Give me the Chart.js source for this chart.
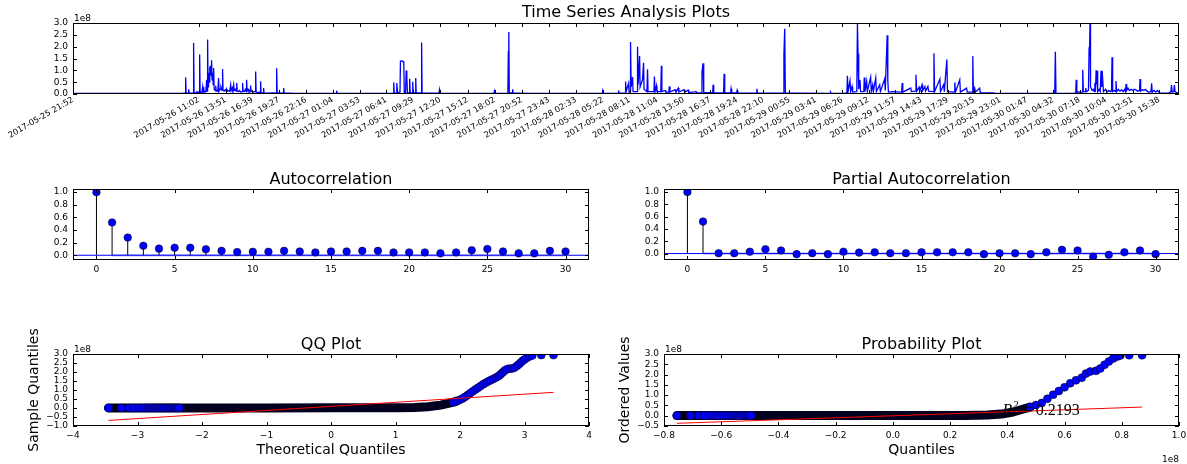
<!DOCTYPE html>
<html>
<head>
<meta charset="utf-8">
<script src="https://cdn.jsdelivr.net/npm/chart.js@4.4.1/dist/chart.umd.min.js"></script>
<style>
  html, body { margin: 0; padding: 0; background: #fff; }
  body { width: 1187px; height: 464px; position: relative; overflow: hidden; }
  canvas { position: absolute; }
</style>
</head>
<body>
<canvas id="tsChart"></canvas>
<canvas id="acfChart"></canvas>
<canvas id="pacfChart"></canvas>
<canvas id="qqChart"></canvas>
<canvas id="probChart"></canvas>
<script>
// ---- data ----------------------------------------------------------------
const tsTickLabels = [
  '2017-05-25 21:52', '2017-05-26 11:02', '2017-05-26 13:51', '2017-05-26 16:39',
  '2017-05-26 19:27', '2017-05-26 22:16', '2017-05-27 01:04', '2017-05-27 03:53',
  '2017-05-27 06:41', '2017-05-27 09:29', '2017-05-27 12:20', '2017-05-27 15:12',
  '2017-05-27 18:02', '2017-05-27 20:52', '2017-05-27 23:43', '2017-05-28 02:33',
  '2017-05-28 05:22', '2017-05-28 08:11', '2017-05-28 11:04', '2017-05-28 13:50',
  '2017-05-28 16:37', '2017-05-28 19:24', '2017-05-28 22:10', '2017-05-29 00:55',
  '2017-05-29 03:41', '2017-05-29 06:26', '2017-05-29 09:12', '2017-05-29 11:57',
  '2017-05-29 14:43', '2017-05-29 17:29', '2017-05-29 20:15', '2017-05-29 23:01',
  '2017-05-30 01:47', '2017-05-30 04:32', '2017-05-30 07:18', '2017-05-30 10:04',
  '2017-05-30 12:51', '2017-05-30 15:38'
];

// [minutes after 2017-05-25 21:52, value in 1e8]
const tsPoints = [
  [0,0.03],[690,0.03],[705,0.05],[708,0.71],[711,0.05],[724,0.04],[727,0.2],[730,0.04],
  [755,0.05],[758,2.16],[761,0.06],[776,0.05],[780,0.1],[793,0.06],[796,1.67],[799,0.06],
  [810,0.08],[815,0.3],[818,0.05],[821,0.3],[824,0.08],[835,0.1],[840,0.6],[843,0.12],
  [846,2.3],[849,0.3],[852,0.9],[855,0.5],[858,1.15],[861,0.7],[865,1.2],[868,0.8],
  [871,1.43],[874,0.6],[878,0.9],[881,0.4],[884,1.1],[887,0.2],[893,0.15],[897,0.35],
  [900,0.12],[906,0.15],[910,0.12],[915,0.67],[918,0.12],[925,0.2],[930,0.3],[937,0.15],
  [940,1.06],[943,0.15],[950,0.12],[956,0.18],[962,0.12],[966,0.2],[972,0.12],[980,0.15],
  [985,0.12],[991,0.38],[994,0.15],[1000,0.25],[1004,0.12],[1010,0.38],[1013,0.15],[1020,0.2],
  [1025,0.12],[1029,0.47],[1032,0.12],[1040,0.1],[1046,0.15],[1055,0.08],[1063,0.1],[1066,0.46],
  [1069,0.1],[1078,0.12],[1083,0.2],[1088,0.1],[1091,0.6],[1094,0.12],[1100,0.2],[1106,0.1],
  [1113,0.15],[1116,0.36],[1119,0.1],[1125,0.12],[1131,0.08],[1140,0.1],[1145,0.1],[1148,0.95],
  [1151,0.08],[1160,0.06],[1170,0.08],[1176,0.06],[1179,0.54],[1182,0.06],[1195,0.05],[1198,0.25],
  [1201,0.05],[1220,0.04],[1260,0.05],[1277,0.04],[1280,1.09],[1283,0.04],[1300,0.05],[1321,0.04],
  [1324,0.25],[1327,0.04],[1360,0.04],[1400,0.03],[1654,0.03],[1657,0.14],[1660,0.03],
  [1990,0.03],[2013,0.04],[2016,0.49],[2019,0.04],[2030,0.04],[2035,0.46],[2040,0.05],[2055,0.08],
  [2058,1.39],[2066,1.4],[2074,1.38],[2079,1.3],[2082,0.06],[2090,0.05],[2094,0.99],[2098,0.7],
  [2102,0.06],[2113,0.05],[2116,0.64],[2119,0.05],[2132,0.05],[2135,0.52],[2138,0.05],[2150,0.05],
  [2154,0.68],[2157,0.05],[2170,0.05],[2188,0.05],[2191,2.18],[2194,0.05],[2220,0.04],[2260,0.04],
  [2300,0.04],[2303,0.18],[2306,0.04],[2340,0.03],[2645,0.03],[2650,0.14],[2655,0.03],[2733,0.04],
  [2736,1.8],[2739,2.62],[2742,0.06],[2760,0.05],[2763,0.2],[2766,0.04],[2800,0.04],[2850,0.03],
  [3300,0.03],[3326,0.03],[3329,0.1],[3332,0.03],[3426,0.04],[3429,0.15],[3432,0.04],[3470,0.05],
  [3473,0.53],[3476,0.1],[3492,0.46],[3495,0.08],[3501,0.1],[3504,2.2],[3508,0.3],[3517,0.71],
  [3520,0.1],[3545,0.1],[3548,2.0],[3552,0.4],[3561,1.6],[3564,0.3],[3579,0.6],[3586,1.32],
  [3589,0.2],[3607,0.1],[3611,1.05],[3614,0.1],[3630,0.1],[3651,0.1],[3654,0.74],[3658,0.1],
  [3667,0.35],[3670,0.1],[3694,0.1],[3698,1.19],[3701,0.1],[3722,0.15],[3726,0.08],[3745,0.08],
  [3748,0.32],[3752,0.08],[3785,0.18],[3789,0.08],[3804,0.25],[3808,0.08],[3841,0.18],[3845,0.07],
  [3866,0.17],[3870,0.06],[3916,0.1],[3920,0.05],[3950,0.05],[3953,0.93],[3960,1.3],[3964,0.06],
  [4020,0.06],[4023,0.39],[4027,0.06],[4070,0.05],[4089,0.05],[4092,0.85],[4096,0.06],[4133,0.05],
  [4136,0.22],[4140,0.05],[4171,0.05],[4174,0.15],[4178,0.05],[4220,0.04],[4295,0.04],[4298,0.22],
  [4302,0.04],[4350,0.04],[4465,0.04],[4468,1.67],[4473,2.76],[4477,0.04],[4520,0.04],[4758,0.03],
  [4761,0.08],[4765,0.03],[4850,0.04],[4864,0.05],[4867,0.77],[4871,0.1],[4883,0.56],[4887,0.1],
  [4896,0.32],[4900,0.08],[4926,0.1],[4930,2.97],[4934,1.7],[4938,0.2],[4946,0.6],[4950,0.1],
  [4970,0.1],[4973,0.7],[4977,0.1],[4988,0.53],[4992,0.1],[5013,0.71],[5017,0.1],[5026,0.39],
  [5030,0.1],[5045,0.68],[5049,0.1],[5070,0.39],[5074,0.1],[5101,0.64],[5105,0.15],[5117,2.48],
  [5121,0.56],[5125,0.08],[5150,0.1],[5208,0.08],[5211,0.46],[5215,0.08],[5265,0.25],[5269,0.1],
  [5294,0.12],[5298,0.81],[5302,0.12],[5317,0.29],[5321,0.1],[5336,0.39],[5340,0.15],[5354,0.32],
  [5358,0.12],[5373,0.32],[5377,0.12],[5407,0.1],[5411,1.72],[5415,0.1],[5448,0.63],[5452,0.1],
  [5472,0.39],[5476,0.1],[5492,1.46],[5496,0.1],[5539,0.08],[5542,0.49],[5546,0.08],[5573,0.6],
  [5577,0.08],[5616,0.25],[5620,0.08],[5651,0.08],[5655,1.6],[5659,0.08],[5667,0.25],[5671,0.08],
  [5698,0.25],[5702,0.06],[5786,0.05],[5790,0.03],[6100,0.03],[6170,0.03],[6174,1.79],[6178,0.03],
  [6290,0.04],[6302,0.05],[6305,0.6],[6309,0.06],[6320,0.1],[6330,0.06],[6343,0.08],[6346,1.02],
  [6350,0.1],[6362,0.1],[6365,0.25],[6369,0.1],[6382,0.15],[6386,1.95],[6389,2.0],[6392,2.97],
  [6395,0.3],[6405,0.15],[6412,0.2],[6418,0.1],[6422,0.46],[6426,0.1],[6430,1.0],[6433,0.4],
  [6436,0.98],[6440,0.1],[6450,0.2],[6456,0.1],[6461,0.98],[6465,0.3],[6468,0.98],[6472,0.98],
  [6476,0.1],[6490,0.2],[6498,0.08],[6510,0.15],[6520,0.1],[6527,0.12],[6530,1.55],[6534,0.1],
  [6545,0.15],[6552,0.1],[6555,0.55],[6559,0.1],[6570,0.2],[6580,0.12],[6590,0.18],[6600,0.1],
  [6610,0.2],[6615,0.1],[6618,0.42],[6622,0.15],[6630,0.25],[6640,0.15],[6650,0.2],[6660,0.15],
  [6670,0.2],[6680,0.18],[6690,0.12],[6703,0.15],[6706,0.63],[6710,0.12],[6720,0.18],[6730,0.15],
  [6740,0.2],[6750,0.12],[6760,0.08],[6775,0.1],[6779,0.45],[6783,0.08],[6795,0.15],[6805,0.08],
  [6815,0.15],[6830,0.05],[6870,0.04],[6890,0.05],[6900,0.1],[6904,0.38],[6908,0.08],[6918,0.1],
  [6922,0.38],[6926,0.1],[6940,0.05],[6951,0.05]
];

const lags = [0,1,2,3,4,5,6,7,8,9,10,11,12,13,14,15,16,17,18,19,20,21,22,23,24,25,26,27,28,29,30];
const acfValues = [1.0,0.52,0.28,0.15,0.105,0.12,0.12,0.095,0.07,0.05,0.055,0.055,0.07,0.06,0.045,0.06,
  0.06,0.07,0.07,0.045,0.045,0.045,0.03,0.045,0.08,0.1,0.06,0.03,0.03,0.07,0.06];
const pacfValues = [1.0,0.52,0.005,0.005,0.03,0.07,0.05,-0.01,0.005,-0.01,0.03,0.015,0.02,0.005,0.005,0.02,
  0.02,0.02,0.02,-0.01,0.005,0.005,-0.01,0.02,0.06,0.05,-0.05,-0.02,0.02,0.05,-0.01];
const confHalfWidth = 0.02;

// QQ plot: [theoretical quantile, sample quantile in 1e8]
const qqDense = [[-3.45,0.005],[-2.0,0.005],[-1.0,0.006],[0.0,0.008],[1.0,0.012],[1.3,0.03],
  [1.5,0.07],[1.7,0.16],[1.85,0.28],[1.95,0.38]];
const qqDots = [[-3.45,0.005],[-3.25,0.005],[-3.13,0.005],[-3.05,0.005],[-2.98,0.005],[-2.93,0.005],
  [-2.88,0.005],[-2.84,0.005],[-2.8,0.005],[-2.77,0.005],[-2.74,0.005],[-2.71,0.005],[-2.68,0.005],
  [-2.65,0.005],[-2.62,0.005],[-2.6,0.005],[-2.57,0.005],[-2.55,0.005],[-2.52,0.005],[-2.5,0.005],
  [-2.48,0.005],[-2.45,0.005],[-2.43,0.005],[-2.41,0.005],[-2.39,0.005],[-2.37,0.005],[-2.35,0.005],
  [1.9,0.32],[1.95,0.38],[2.0,0.46],[2.04,0.53],[2.08,0.62],[2.12,0.72],[2.16,0.83],[2.2,0.93],
  [2.24,1.03],[2.28,1.12],[2.32,1.22],[2.36,1.32],[2.4,1.4],[2.44,1.48],[2.48,1.55],[2.52,1.62],
  [2.56,1.7],[2.6,1.78],[2.63,1.87],[2.66,1.97],[2.69,2.07],[2.72,2.14],[2.76,2.18],[2.8,2.19],
  [2.84,2.23],[2.88,2.33],[2.91,2.42],[2.94,2.52],[2.97,2.62],[3.0,2.7],[3.04,2.79],[3.08,2.87],
  [3.12,2.92],[3.26,2.94],[3.45,2.94]];
const qqFit = [[-3.45,-0.69],[3.45,0.87]];

// Probability plot: [quantile in 1e8, ordered value in 1e8]
const probDense = [[-0.755,0.005],[-0.4,0.005],[0.0,0.008],[0.25,0.012],[0.33,0.03],[0.38,0.08],
  [0.42,0.18],[0.45,0.3],[0.48,0.42]];
const probDots = [[-0.755,0.005],[-0.707,0.005],[-0.679,0.005],[-0.66,0.005],[-0.643,0.005],
  [-0.631,0.005],[-0.62,0.005],[-0.61,0.005],[-0.601,0.005],[-0.594,0.005],[-0.587,0.005],
  [-0.58,0.005],[-0.573,0.005],[-0.566,0.005],[-0.559,0.005],[-0.554,0.005],[-0.547,0.005],
  [-0.542,0.005],[-0.535,0.005],[-0.53,0.005],[-0.525,0.005],[-0.518,0.005],[-0.514,0.005],
  [-0.509,0.005],[-0.504,0.005],[-0.5,0.005],[-0.495,0.005],
  [0.48,0.42],[0.5,0.52],[0.52,0.62],[0.54,0.82],[0.56,1.02],[0.58,1.2],[0.6,1.38],[0.62,1.58],
  [0.64,1.72],[0.66,1.85],[0.675,2.05],[0.69,2.15],[0.71,2.18],[0.725,2.3],[0.74,2.48],
  [0.755,2.64],[0.77,2.78],[0.785,2.88],[0.795,2.93],[0.826,2.94],[0.871,2.94]];
const probFit = [[-0.755,-0.37],[0.871,0.42]];
const probR2 = '0.2193';

// ---- helpers -------------------------------------------------------------
Chart.defaults.font.family = '"DejaVu Sans", sans-serif';
Chart.defaults.color = '#000';

const minus = s => s.replace('-', '\u2212');
const fix = d => v => minus(Number(v).toFixed(d));
const xy = arr => arr.map(p => ({x: p[0], y: p[1]}));

function labelMinutes(s) {
  const [d, t] = s.split(' ');
  const [Y, M, D] = d.split('-').map(Number);
  const [h, m] = t.split(':').map(Number);
  return Date.UTC(Y, M - 1, D, h, m) / 60000;
}
const tsStart = labelMinutes(tsTickLabels[0]);
const tsTickMinutes = tsTickLabels.map(s => labelMinutes(s) - tsStart);

function placeCanvas(id, b) {
  const c = document.getElementById(id);
  c.width = b.w; c.height = b.h;
  c.style.left = b.x + 'px'; c.style.top = b.y + 'px';
  c.style.width = b.w + 'px'; c.style.height = b.h + 'px';
  return c;
}

function xAxis(min, max, vals, fmt, b, extra) {
  return Object.assign({
    type: 'linear', min, max,
    grid: {display: false, drawTicks: false},
    border: {display: false},
    ticks: {autoSkip: false, maxRotation: 0, minRotation: 0, padding: 4, font: {size: 9}, callback: fmt},
    afterBuildTicks: s => { s.ticks = vals.map(v => ({value: v})); },
    afterFit: s => { s.height = b.xH; s.paddingLeft = 0; s.paddingRight = 0; }
  }, extra || {});
}

function yAxis(min, max, vals, fmt, b) {
  return {
    type: 'linear', min, max,
    grid: {display: false, drawTicks: false},
    border: {display: false},
    ticks: {autoSkip: false, padding: 5, font: {size: 9}, callback: fmt},
    afterBuildTicks: s => { s.ticks = vals.map(v => ({value: v})); },
    afterFit: s => { s.width = b.yW; s.paddingTop = 0; s.paddingBottom = 0; }
  };
}

// frame with inward ticks on all four sides, plus titles and labels
const decor = {
  id: 'decor',
  afterDraw(chart, args, o) {
    const {ctx, chartArea: a, scales: {x, y}} = chart;
    ctx.save();
    ctx.strokeStyle = '#000';
    ctx.lineWidth = 1;
    ctx.beginPath();
    x.ticks.forEach(t => {
      const px = Math.round(x.getPixelForValue(t.value)) + 0.5;
      ctx.moveTo(px, a.bottom); ctx.lineTo(px, a.bottom - 4);
      ctx.moveTo(px, a.top); ctx.lineTo(px, a.top + 4);
    });
    y.ticks.forEach(t => {
      const py = Math.round(y.getPixelForValue(t.value)) + 0.5;
      ctx.moveTo(a.left, py); ctx.lineTo(a.left + 4, py);
      ctx.moveTo(a.right, py); ctx.lineTo(a.right - 4, py);
    });
    ctx.stroke();
    ctx.strokeRect(a.left + 0.5, a.top + 0.5, a.right - a.left - 1, a.bottom - a.top - 1);

    ctx.fillStyle = '#000';
    ctx.textBaseline = 'alphabetic';
    if (o.title) {
      ctx.font = '16px "DejaVu Sans"';
      ctx.textAlign = 'center';
      ctx.fillText(o.title, (a.left + a.right) / 2, a.top - o.titleGap);
    }
    if (o.yOffset) {
      ctx.font = '9px "DejaVu Sans"';
      ctx.textAlign = 'left';
      ctx.fillText(o.yOffset, a.left + 1, a.top - 2);
    }
    if (o.xOffset) {
      ctx.font = '9px "DejaVu Sans"';
      ctx.textAlign = 'right';
      ctx.fillText(o.xOffset, a.right, a.bottom + 36);
    }
    if (o.xLabel) {
      ctx.font = '14px "DejaVu Sans"';
      ctx.textAlign = 'center';
      ctx.fillText(o.xLabel, (a.left + a.right) / 2, a.bottom + 28);
    }
    if (o.yLabel) {
      ctx.save();
      ctx.font = '14px "DejaVu Sans"';
      ctx.textAlign = 'center';
      ctx.translate(a.left - 35, (a.top + a.bottom) / 2);
      ctx.rotate(-Math.PI / 2);
      ctx.fillText(o.yLabel, 0, 0);
      ctx.restore();
    }
    if (o.r2) {
      let px = x.getPixelForValue(o.r2.x);
      const py = y.getPixelForValue(o.r2.y);
      ctx.textAlign = 'left';
      ctx.font = 'italic 16px "Liberation Serif"';
      ctx.fillText('R', px, py);
      px += ctx.measureText('R').width + 1;
      ctx.font = '11px "Liberation Serif"';
      ctx.fillText('2', px, py - 7);
      px += ctx.measureText('2').width;
      ctx.font = '16px "Liberation Serif"';
      ctx.fillText(' = ' + o.r2.text, px, py);
    }
    ctx.restore();
  }
};

function baseOptions(b, scales, decorOpts) {
  return {
    responsive: false,
    animation: false,
    events: [],
    layout: {padding: {top: b.padT, right: b.padR, left: 0, bottom: 0}},
    scales,
    plugins: {legend: {display: false}, tooltip: {enabled: false}, decor: decorOpts}
  };
}

const dot = {pointRadius: 4, pointBackgroundColor: '#0000ff', pointBorderColor: '#000', pointBorderWidth: 0.5};

// ---- time series ---------------------------------------------------------
const tsBox = {x: 0, y: 0, w: 1187, h: 165, yW: 73, xH: 71, padT: 23, padR: 8};
new Chart(placeCanvas('tsChart', tsBox), {
  type: 'line',
  data: {datasets: [{
    data: xy(tsPoints), borderColor: '#0000ff', borderWidth: 1.3, pointRadius: 0, tension: 0
  }]},
  options: baseOptions(tsBox, {
    x: xAxis(0, tsPoints[tsPoints.length - 1][0], tsTickMinutes, (v, i) => tsTickLabels[i], tsBox,
      {ticks: {autoSkip: false, maxRotation: 30, minRotation: 30, padding: 1, font: {size: 8.2},
               callback: (v, i) => tsTickLabels[i]}}),
    y: yAxis(0, 3, [0, 0.5, 1, 1.5, 2, 2.5, 3], fix(1), tsBox)
  }, {title: 'Time Series Analysis Plots', titleGap: 6, yOffset: '1e8'}),
  plugins: [decor]
});

// ---- correlograms --------------------------------------------------------
function correlogram(id, box, values, yMin, title) {
  const stems = [];
  lags.forEach((l, i) => { stems.push({x: l, y: 0}, {x: l, y: values[i]}, {x: l, y: null}); });
  const xMin = -1.5, xMax = 31.5;
  new Chart(placeCanvas(id, box), {
    type: 'line',
    data: {datasets: [
      {data: lags.map((l, i) => ({x: l, y: values[i]})), showLine: false, order: 0, ...dot, pointRadius: 3.8},
      {data: [{x: xMin, y: 0}, {x: xMax, y: 0}], borderColor: '#0000ff', borderWidth: 1, pointRadius: 0, order: 1},
      {data: stems, borderColor: '#000', borderWidth: 1, pointRadius: 0, spanGaps: false, order: 2},
      {data: lags.slice(1).map(l => ({x: l, y: confHalfWidth})), borderWidth: 0, pointRadius: 0,
       fill: '+1', backgroundColor: 'rgba(0,0,255,0.25)', order: 3},
      {data: lags.slice(1).map(l => ({x: l, y: -confHalfWidth})), borderWidth: 0, pointRadius: 0, order: 4}
    ]},
    options: baseOptions(box, {
      x: xAxis(xMin, xMax, [0, 5, 10, 15, 20, 25, 30], v => String(v), box),
      y: yAxis(yMin, 1.05, [0, 0.2, 0.4, 0.6, 0.8, 1.0], fix(1), box)
    }, {title, titleGap: 5}),
    plugins: [decor]
  });
}
correlogram('acfChart', {x: 0, y: 160, w: 600, h: 120, yW: 73, xH: 20, padT: 29, padR: 11},
  acfValues, -0.075, 'Autocorrelation');
correlogram('pacfChart', {x: 610, y: 160, w: 577, h: 120, yW: 54, xH: 20, padT: 29, padR: 8},
  pacfValues, -0.105, 'Partial Autocorrelation');

// ---- QQ plot -------------------------------------------------------------
function quantilePlot(id, box, dense, dots, fit, xr, yr, xt, yt, xfmt, decorOpts) {
  new Chart(placeCanvas(id, box), {
    type: 'line',
    data: {datasets: [
      {data: xy(fit), borderColor: '#ff0000', borderWidth: 1, pointRadius: 0, order: 0},
      {data: xy(dots), showLine: false, order: 1, ...dot},
      {data: xy(dense), borderColor: '#00001e', borderWidth: 9, borderCapStyle: 'round',
       borderJoinStyle: 'round', pointRadius: 0, tension: 0, order: 2}
    ]},
    options: baseOptions(box, {
      x: xAxis(xr[0], xr[1], xt, xfmt, box),
      y: yAxis(yr[0], yr[1], yt, fix(1), box)
    }, decorOpts),
    plugins: [decor]
  });
}

quantilePlot('qqChart', {x: 0, y: 325, w: 600, h: 139, yW: 73, xH: 38, padT: 29, padR: 11},
  qqDense, qqDots, qqFit, [-4, 4], [-1, 3],
  [-4, -3, -2, -1, 0, 1, 2, 3, 4], [-1, -0.5, 0, 0.5, 1, 1.5, 2, 2.5, 3], v => minus(String(v)),
  {title: 'QQ Plot', titleGap: 5, yOffset: '1e8', xLabel: 'Theoretical Quantiles', yLabel: 'Sample Quantiles'});

// ---- probability plot ----------------------------------------------------
const probXs = probDots.map(p => p[0]);
const probYs = probDots.map(p => p[1]);
const pxMin = Math.min(...probXs), pxMax = Math.max(...probXs);
const pyMin = Math.min(...probYs), pyMax = Math.max(...probYs);

quantilePlot('probChart', {x: 600, y: 325, w: 587, h: 139, yW: 64, xH: 38, padT: 29, padR: 8},
  probDense, probDots, probFit, [-0.8, 1.0], [-0.5, 3],
  [-0.8, -0.6, -0.4, -0.2, 0, 0.2, 0.4, 0.6, 0.8, 1.0], [-0.5, 0, 0.5, 1, 1.5, 2, 2.5, 3], fix(1),
  {title: 'Probability Plot', titleGap: 5, yOffset: '1e8', xOffset: '1e8', xLabel: 'Quantiles',
   yLabel: 'Ordered Values',
   r2: {x: pxMin + 0.7 * (pxMax - pxMin), y: pyMin + 0.01 * (pyMax - pyMin), text: probR2}});
</script>
</body>
</html>
